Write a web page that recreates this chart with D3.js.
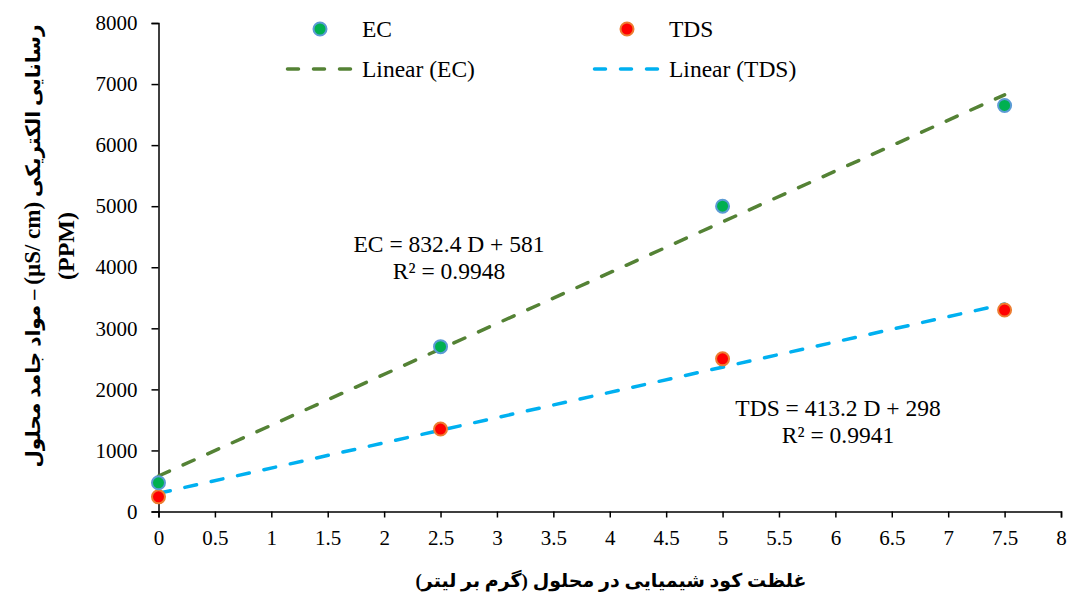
<!DOCTYPE html>
<html>
<head>
<meta charset="utf-8">
<script src="https://cdn.jsdelivr.net/npm/d3@7"></script>
<style>
  html, body { margin: 0; padding: 0; background: #fff; }
  svg { display: block; }
</style>
</head>
<body>
<svg id="chart" width="1067" height="595"></svg>
<script>
// ---- data ----
const xValues = [0, 2.5, 5, 7.5];
const ecValues = [470, 2700, 5000, 6650];
const tdsValues = [240, 1350, 2500, 3300];
const trendSlopes = [832.4, 413.2];
const trendIntercepts = [581, 298];
const seriesNames = ["EC", "TDS"];
const trendNames = ["Linear (EC)", "Linear (TDS)"];
const equationLines = [["EC = 832.4 D + 581", "R² = 0.9948"], ["TDS = 413.2 D + 298", "R² = 0.9941"]];
const xTicks = [0, 0.5, 1, 1.5, 2, 2.5, 3, 3.5, 4, 4.5, 5, 5.5, 6, 6.5, 7, 7.5, 8];
const yTicks = [0, 1000, 2000, 3000, 4000, 5000, 6000, 7000, 8000];
const xTitle = "غلظت کود شیمیایی در محلول (گرم بر لیتر)";
const yTitleParts = ["رسانایی الکتریکی ", "(µS/ cm)", " – مواد جامد محلول"];
const yTitleLine2 = "(PPM)";

// ---- styles ----
const fills = ["#00B050", "#FF0000"];
const strokes = ["#5B9BD5", "#ED7D31"];
const trendColors = ["#548235", "#00B0F0"];
const serif = "'Liberation Serif', 'Times New Roman', serif";
const titleFont = "'Liberation Serif', 'DejaVu Sans', serif";

const svg = d3.select("#chart");
const x = d3.scaleLinear().domain([0, 8]).range([158.5, 1061]);
const y = d3.scaleLinear().domain([0, 8000]).range([511.5, 23]);

// axes
const xAxis = svg.append("g").attr("transform", `translate(0,${y(0)})`)
  .call(d3.axisBottom(x).tickValues(xTicks).tickSize(6).tickPadding(13).tickFormat(d => String(d)));
const yAxis = svg.append("g").attr("transform", `translate(${x(0)},0)`)
  .call(d3.axisLeft(y).tickValues(yTicks).tickSize(7).tickPadding(14).tickFormat(d => String(d)));
[xAxis, yAxis].forEach(g => {
  g.select(".domain").attr("stroke", "#000").attr("stroke-width", 1.5);
  g.selectAll(".tick line").attr("stroke", "#000").attr("stroke-width", 1.5);
  g.selectAll(".tick text").attr("fill", "#000").style("font-family", serif).style("font-size", "21px");
});

// trend lines
const seriesVals = [ecValues, tdsValues];
trendSlopes.forEach((m, i) => {
  const x0 = d3.min(xValues), x1 = d3.max(xValues);
  svg.append("line")
    .attr("x1", x(x0)).attr("y1", y(trendIntercepts[i] + m * x0))
    .attr("x2", x(x1)).attr("y2", y(trendIntercepts[i] + m * x1))
    .attr("stroke", trendColors[i]).attr("stroke-width", 3.5)
    .attr("stroke-linecap", "round").attr("stroke-dasharray", "12,15");
});

// points (TDS first so EC drawn on top like reference)
[1, 0].forEach(i => {
  svg.append("g").selectAll("circle").data(xValues).join("circle")
    .attr("cx", d => x(d)).attr("cy", (d, k) => y(seriesVals[i][k]))
    .attr("r", 6.5).attr("fill", fills[i])
    .attr("stroke", strokes[i]).attr("stroke-width", 2);
});

// equations
const eqPos = [[449, 252], [838, 416]];
equationLines.forEach((lines, i) => {
  lines.forEach((t, j) => {
    svg.append("text").attr("x", eqPos[i][0]).attr("y", eqPos[i][1] + j * 27)
      .attr("text-anchor", "middle").style("font-family", serif).style("font-size", "23.5px")
      .attr("fill", "#000").text(t);
  });
});

// legend
const legMarkerX = [320, 627], legTextX = [362, 669];
const legLineX = [[287.5, 354.5], [594.5, 661.5]];
seriesNames.forEach((n, i) => {
  svg.append("circle").attr("cx", legMarkerX[i]).attr("cy", 29).attr("r", 6.5)
    .attr("fill", fills[i]).attr("stroke", strokes[i]).attr("stroke-width", 2);
  svg.append("text").attr("x", legTextX[i]).attr("y", 37).style("font-family", serif)
    .style("font-size", "23.5px").attr("fill", "#000").text(n);
  svg.append("line").attr("x1", legLineX[i][0]).attr("x2", legLineX[i][1])
    .attr("y1", 69).attr("y2", 69).attr("stroke", trendColors[i]).attr("stroke-width", 3.5)
    .attr("stroke-linecap", "round").attr("stroke-dasharray", "11,15");
  svg.append("text").attr("x", legTextX[i]).attr("y", 77).style("font-family", serif)
    .style("font-size", "23.5px").attr("fill", "#000").text(trendNames[i]);
});

// axis titles
svg.append("text").attr("x", 611).attr("y", 587).attr("text-anchor", "middle")
  .attr("direction", "rtl").style("font-family", titleFont).style("font-weight", "bold")
  .style("font-size", "19px").attr("fill", "#000").text(xTitle);

const yt = svg.append("g").attr("transform", "translate(0,246) rotate(-90)");
const line1 = yt.append("text").attr("x", 0).attr("y", 40).attr("text-anchor", "middle")
  .attr("direction", "rtl").style("font-family", titleFont).style("font-weight", "bold")
  .attr("fill", "#000");
yTitleParts.forEach((t, k) => {
  line1.append("tspan").style("font-size", k === 1 ? "23px" : "20px").text(t);
});
yt.append("text").attr("x", 0).attr("y", 74).attr("text-anchor", "middle")
  .style("font-family", titleFont).style("font-weight", "bold")
  .style("font-size", "24px").attr("fill", "#000").text(yTitleLine2);
</script>
</body>
</html>
